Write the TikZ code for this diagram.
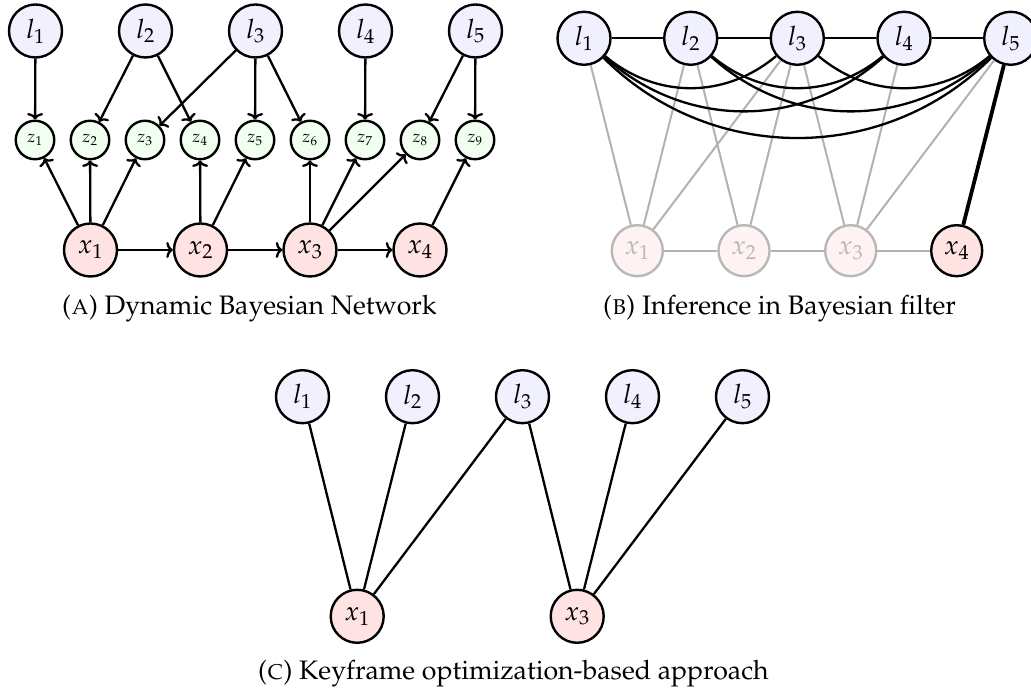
\documentclass[tikz,border=0pt]{standalone}
\usepackage[T1]{fontenc}
\usepackage{mathpazo}
\usetikzlibrary{arrows.meta}
\begin{document}
\begin{tikzpicture}[x=1pt,y=1pt,
  every node/.style={font=\fontsize{26.7}{31}\selectfont},
  land/.style={circle,draw=black,line width=2.4pt,fill=blue!6,minimum size=53pt,inner sep=0pt},
  pose/.style={circle,draw=black,line width=2.4pt,fill=red!11,minimum size=53pt,inner sep=0pt},
  faded/.style={circle,draw=black!28,line width=2.4pt,fill=red!5,text=black!28,minimum size=51pt,inner sep=0pt},
  meas/.style={circle,draw=black,line width=2.4pt,fill=green!6,minimum size=38.5pt,inner sep=0pt,font=\fontsize{17}{20}\selectfont},
  link/.style={line width=2.3pt},
  arr/.style={line width=2.3pt,-{To[length=6.5pt,width=16pt]}},
  weak/.style={line width=2pt,black!30},
  subcap/.style={anchor=base west,inner sep=0pt}]
\useasboundingbox (0,0) rectangle (1031,695);

% (a) dynamic Bayesian network
\foreach \i/\px in {1/35.5,2/145.5,3/255.5,4/365.5,5/475.5}
  \node[land] (al\i) at (\px,664) {$l_\i$};
\foreach \i in {1,...,9}
  \node[meas] (az\i) at ({35+55*(\i-1)},555) {$z_\i$};
\foreach \i/\px in {1/90.5,2/200.5,3/310,4/420}
  \node[pose] (ax\i) at (\px,445) {$x_\i$};
\foreach \a/\b in {1/1,2/2,2/4,3/3,3/5,3/6,4/7,5/8,5/9}
  \draw[arr] (al\a) -- (az\b);
\foreach \a/\b in {1/1,1/2,1/3,2/4,2/5,3/6,3/7,3/8,4/9}
  \draw[arr] (ax\a) -- (az\b);
\draw[arr] (ax1) -- (ax2);
\draw[arr] (ax2) -- (ax3);
\draw[arr] (ax3) -- (ax4);
\node[subcap] (capa) at (62,380) {(\textsc{a}) Dynamic Bayesian Network};

% (b) inference in a Bayesian filter
\foreach \i/\px in {1/584,2/690.7,3/797.3,4/904,5/1010.7}
  \node[land] (bl\i) at (\px,656.7) {$l_\i$};
\foreach \i/\px in {1/637.3,2/744,3/850.7}
  \node[faded] (bx\i) at (\px,444.3) {$x_\i$};
\node[pose,minimum size=51pt] (bx4) at (956.7,444.3) {$x_4$};
\foreach \a/\b in {1/1,2/1,3/1,2/2,3/2,3/3,4/3,5/3}
  \draw[weak] (bl\a) -- (bx\b);
\draw[weak] (bx1) -- (bx2);
\draw[weak] (bx2) -- (bx3);
\draw[weak] (bx3) -- (bx4);
\foreach \a/\b in {1/2,2/3,3/4,4/5}
  \draw[link] (bl\a) -- (bl\b);
\foreach \a/\b in {1/3,2/4,3/5}
  \draw[link] (bl\a) to[bend right=40] (bl\b);
\foreach \a/\b in {1/4,2/5}
  \draw[link] (bl\a) to[bend right=42] (bl\b);
\draw[link] (bl1) to[bend right=45] (bl5);
\draw[line width=3.8pt] (bl5) -- (bx4);
\node[subcap] (capb) at (603,380) {(\textsc{b}) Inference in Bayesian filter};

% (c) keyframe optimisation
\foreach \i/\px in {1/302.5,2/412.5,3/522.5,4/632.5,5/742.5}
  \node[land] (cl\i) at (\px,298.3) {$l_\i$};
\node[pose] (cx1) at (357.2,78.7) {$x_1$};
\node[pose] (cx3) at (577.2,78.7) {$x_3$};
\foreach \a in {1,2,3}
  \draw[link] (cl\a) -- (cx1);
\foreach \a in {3,4,5}
  \draw[link] (cl\a) -- (cx3);
\node[subcap] (capc) at (258,15) {(\textsc{c}) Keyframe optimization-based approach};
\end{tikzpicture}
\end{document}
